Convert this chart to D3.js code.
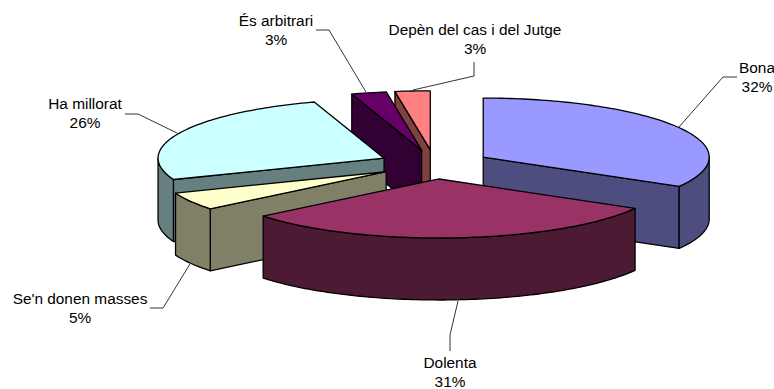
<!DOCTYPE html>
<html>
<head>
<meta charset="utf-8">
<script src="https://cdn.jsdelivr.net/npm/d3@7"></script>
<style>
  html, body { margin: 0; padding: 0; background: #fff; }
  svg { display: block; }
  text { font-family: "Liberation Sans", Arial, sans-serif; font-size: 15.4px; fill: #000; }
</style>
</head>
<body>
<div id="chart"></div>
<script>
const categories = ['Bona', 'Dolenta', "Se'n donen masses", 'Ha millorat', 'És arbitrari', 'Depèn del cas i del Jutge']
const percentLabels = ['32%', '31%', '5%', '26%', '3%', '3%']
// slice shares as drawn (the 3d view skews them a bit from the printed labels)
const drawnShares = [33.3, 30.9, 4.9, 25.9, 2.5, 2.5]
const topColors = ['#9999ff', '#993366', '#ffffcc', '#ccffff', '#660066', '#ff8080']
const sideColors = ['#4d4d80', '#4d1a33', '#808066', '#668080', '#330033', '#804040']

const width = 774
const height = 389
const depth = 62
const explode = 0.248

// unit circle of the pie mapped on to the flattened ellipse
const x = d3.scaleLinear().domain([-1, 1]).range([434.7 - 226, 434.7 + 226])
const y = d3.scaleLinear().domain([-1, 1]).range([164.4 - 59, 164.4 + 59])

// label box centre, first baseline, leader polyline
const labelLayout = [
  { cx: 757, by: 73, leader: [[679, 127], [723, 77], [737, 77]] },
  { cx: 450, by: 368, leader: [[458, 301], [450, 335], [450, 351]] },
  { cx: 80, by: 304, leader: [[190, 264], [163, 308], [150, 308]] },
  { cx: 85, by: 109, leader: [[177, 133], [138, 114], [125, 114]] },
  { cx: 276, by: 26, leader: [[366, 92], [329, 30], [316, 30]] },
  { cx: 475, by: 35, leader: [[413, 90], [474, 76], [474, 62]] }
]

const svg = d3.select('#chart')
  .append('svg')
  .attr('width', width)
  .attr('height', height)

const pie = d3.pie().sort(null).value(d => d)
const slices = pie(drawnShares).map((s, i) => {
  const mid = (s.startAngle + s.endAngle) / 2
  return { ...s, i, mid, ox: Math.sin(mid) * explode, oy: -Math.cos(mid) * explode }
})

// position on a slice's rim (or its apex when r is 0), dy pushes it down to the bottom face
const pt = (s, a, r, dy = 0) => [
  x(s.ox + Math.sin(a) * r),
  y(s.oy - Math.cos(a) * r) + dy
]

const line = d3.line()
const arcAngles = (a0, a1) => {
  const n = Math.max(2, Math.ceil((a1 - a0) / 0.02))
  return d3.range(n + 1).map(k => a0 + (a1 - a0) * k / n)
}

const sliceGroups = svg.append('g')
  .selectAll('g')
  .data(slices.slice().sort((a, b) => Math.cos(b.mid) - Math.cos(a.mid)))
  .enter()
  .append('g')
  .attr('stroke', '#000')
  .attr('stroke-width', 1.3)
  .attr('stroke-linejoin', 'round')

sliceGroups.each(function (s) {
  const g = d3.select(this)
  const side = sideColors[s.i]

  // only the radial wall that faces the viewer
  const wallAngle = Math.sin(s.endAngle - 1e-6) > 0 && s.endAngle < Math.PI
    ? s.endAngle
    : (Math.sin(s.startAngle + 1e-6) < 0 ? s.startAngle : null)
  if (wallAngle !== null) {
    g.append('path')
      .attr('fill', side)
      .attr('d', line([pt(s, wallAngle, 0), pt(s, wallAngle, 1), pt(s, wallAngle, 1, depth), pt(s, wallAngle, 0, depth)]) + 'Z')
  }

  // outer wall, only for the front half of the rim
  const a0 = Math.max(s.startAngle, Math.PI / 2)
  const a1 = Math.min(s.endAngle, Math.PI * 1.5)
  if (a1 > a0) {
    const rim = arcAngles(a0, a1)
    g.append('path')
      .attr('fill', side)
      .attr('d', line(rim.map(a => pt(s, a, 1)).concat(rim.slice().reverse().map(a => pt(s, a, 1, depth)))) + 'Z')
  }

  // top face
  g.append('path')
    .attr('fill', topColors[s.i])
    .attr('d', line([pt(s, 0, 0)].concat(arcAngles(s.startAngle, s.endAngle).map(a => pt(s, a, 1)))) + 'Z')
})

svg.append('g')
  .selectAll('path')
  .data(labelLayout)
  .enter()
  .append('path')
  .attr('fill', 'none')
  .attr('stroke', '#000')
  .attr('stroke-width', 0.8)
  .attr('d', d => line(d.leader))

const labels = svg.append('g')
  .selectAll('text')
  .data(categories)
  .enter()
  .append('text')
  .attr('text-anchor', 'middle')
  .attr('x', (d, i) => labelLayout[i].cx)
  .attr('y', (d, i) => labelLayout[i].by)

labels.append('tspan').text(d => d)
labels.append('tspan')
  .attr('x', (d, i) => labelLayout[i].cx)
  .attr('dy', 19)
  .text((d, i) => percentLabels[i])
</script>
</body>
</html>
